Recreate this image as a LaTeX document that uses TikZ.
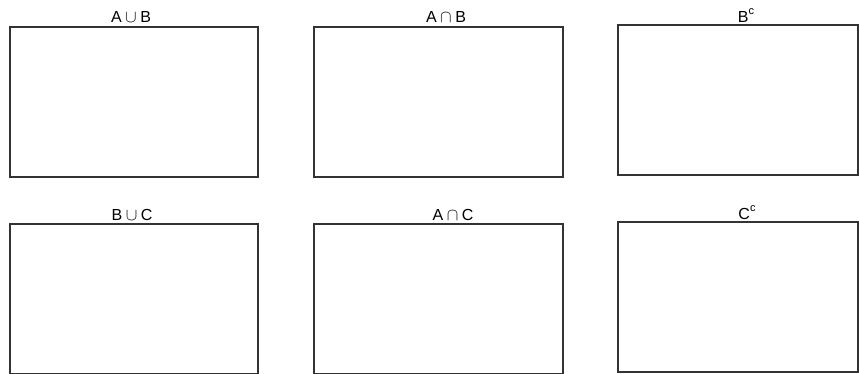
\documentclass[tikz,border=0pt]{standalone}
\usepackage{fontspec}
\setmainfont{Liberation Sans}
\begin{document}
\begin{tikzpicture}[x=1pt,y=-1pt,
  setbox/.style={draw=black!80, line width=1.3pt, fill=white, inner sep=0pt, outer sep=0pt, rectangle},
  settitle/.style={anchor=base, inner sep=0pt, font=\fontsize{16}{19}\selectfont, text=black}]
\useasboundingbox (0,0) rectangle (859,373);
\clip (0,0) rectangle (859,373);
\fill[white] (0,0) rectangle (859,373);
% top row
\node[setbox, minimum width=248pt, minimum height=150pt] (b1) at (134,102) {};
\node[setbox, minimum width=249pt, minimum height=150pt] (b2) at (438.5,102) {};
\node[setbox, minimum width=240pt, minimum height=150pt] (b3) at (738,100) {};
% bottom row
\node[setbox, minimum width=248pt, minimum height=150pt] (b4) at (134,299) {};
\node[setbox, minimum width=249pt, minimum height=150pt] (b5) at (438.5,299) {};
\node[setbox, minimum width=240pt, minimum height=150pt] (b6) at (738,297) {};
% titles
\node[settitle] (t1) at (131,22) {A\hspace{0.22em}$\cup$\hspace{0.22em}B};
\node[settitle] (t2) at (446,22) {A\hspace{0.22em}$\cap$\hspace{0.22em}B};
\node[settitle] (t3) at (746,22) {B\raisebox{0.45em}{\fontsize{11}{13}\selectfont c}};
\node[settitle] (t4) at (132,220) {B\hspace{0.22em}$\cup$\hspace{0.22em}C};
\node[settitle] (t5) at (453,220) {A\hspace{0.22em}$\cap$\hspace{0.22em}C};
\node[settitle] (t6) at (747,219) {C\raisebox{0.45em}{\fontsize{11}{13}\selectfont c}};
\end{tikzpicture}
\end{document}
